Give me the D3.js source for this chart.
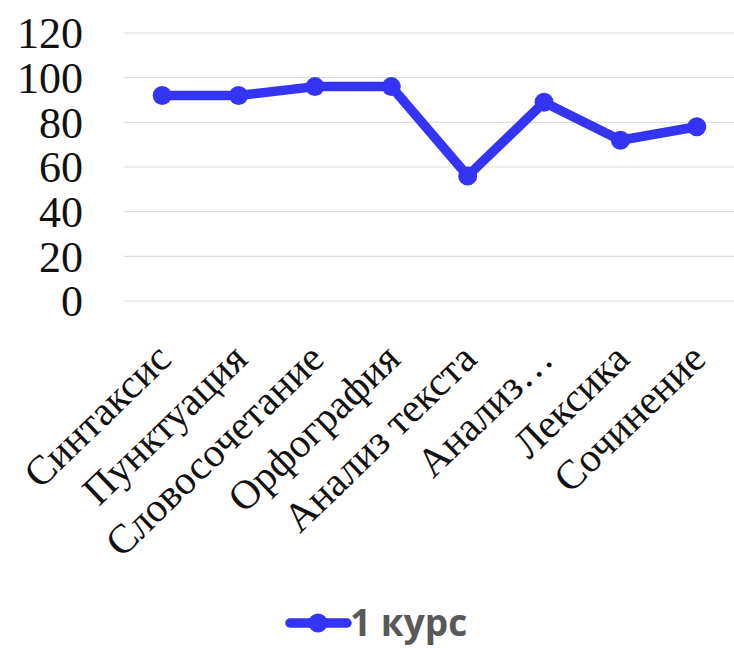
<!DOCTYPE html>
<html>
<head>
<meta charset="utf-8">
<script src="https://cdn.jsdelivr.net/npm/d3@7"></script>
<style>
  html, body { margin: 0; padding: 0; background: #ffffff; }
  svg { display: block; }
</style>
</head>
<body>
<svg id="chart" width="734" height="648"></svg>
<script>
const categories = ["Синтаксис", "Пунктуация", "Словосочетание", "Орфография", "Анализ текста", "Анализ…", "Лексика", "Сочинение"];
const values = [92, 92, 96, 96, 56, 89, 72, 78];
const yTicks = [0, 20, 40, 60, 80, 100, 120];
const seriesName = "1 курс";

const color = "#3434f4";
const svg = d3.select("#chart");

const x = d3.scaleBand().domain(categories).range([124, 735]);
const y = d3.scaleLinear().domain([0, 120]).range([301, 33]);

// gridlines
svg.append("g")
  .selectAll("line")
  .data(yTicks)
  .join("line")
  .attr("x1", 124).attr("x2", 734)
  .attr("y1", d => y(d)).attr("y2", d => y(d))
  .attr("stroke", "#dedede").attr("stroke-width", 1.2);

// y axis labels
const yAxis = d3.axisLeft(y).tickValues(yTicks).tickSize(0).tickPadding(0);
const gy = svg.append("g").attr("transform", "translate(83,0)").call(yAxis);
gy.select(".domain").remove();
gy.selectAll("text")
  .attr("font-family", "'Liberation Serif', 'Times New Roman', serif")
  .attr("font-size", 44)
  .attr("fill", "#111")
  .attr("dy", "0.34em");

// x axis labels
const xAxis = d3.axisBottom(x).tickSize(0).tickPadding(0);
const gx = svg.append("g").attr("transform", "translate(0,345)").call(xAxis);
gx.select(".domain").remove();
gx.selectAll("text")
  .attr("font-family", "'Liberation Serif', 'Times New Roman', serif")
  .attr("font-size", 41)
  .attr("fill", "#111")
  .attr("text-anchor", "end")
  .attr("dy", "0.32em")
  .attr("transform", "translate(2,7) rotate(-44)");

// line
const line = d3.line()
  .x((d, i) => x(categories[i]) + x.bandwidth() / 2)
  .y(d => y(d));

svg.append("path")
  .datum(values)
  .attr("d", line)
  .attr("fill", "none")
  .attr("stroke", color)
  .attr("stroke-width", 9.5)
  .attr("stroke-linejoin", "round");

svg.append("g")
  .selectAll("circle")
  .data(values)
  .join("circle")
  .attr("cx", (d, i) => x(categories[i]) + x.bandwidth() / 2)
  .attr("cy", d => y(d))
  .attr("r", 9.5)
  .attr("fill", color);

// legend
const lg = svg.append("g").attr("transform", "translate(0,623)");
lg.append("line")
  .attr("x1", 290).attr("x2", 347)
  .attr("y1", 0).attr("y2", 0)
  .attr("stroke", color).attr("stroke-width", 9.5)
  .attr("stroke-linecap", "round");
lg.append("circle").attr("cx", 318).attr("cy", 0).attr("r", 9.5).attr("fill", color);
lg.append("text")
  .attr("x", 350).attr("y", 0).attr("dy", "0.36em")
  .attr("font-family", "'Open Sans', 'Liberation Sans', Arial, sans-serif")
  .attr("font-weight", "bold")
  .attr("font-size", 37)
  .attr("fill", "#595959")
  .text(seriesName);
</script>
</body>
</html>
